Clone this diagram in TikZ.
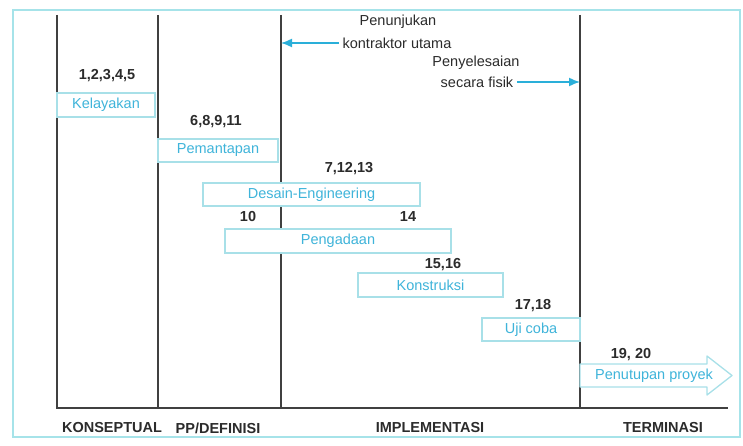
\documentclass[tikz,border=0pt]{standalone}
\usepackage{fontspec}
\setmainfont{Liberation Sans}
\usetikzlibrary{arrows.meta,positioning,calc}
\definecolor{PHFrame}{HTML}{A6E3E9}
\definecolor{PHBox}{HTML}{A8E0E8}
\definecolor{PHCyan}{HTML}{3FB4DA}
\definecolor{PHArrow}{HTML}{2AAFD9}
\definecolor{PHInk}{HTML}{2B2B2B}
\definecolor{PHRule}{HTML}{404040}
\tikzset{
  frame/.style={draw=PHFrame,line width=2pt},
  divider/.style={PHRule,line width=1.5pt},
  flow/.style={-{Latex[length=11pt,width=9pt]},PHArrow,line width=1.5pt},
  phasebox/.style={draw=PHBox,line width=1.3pt,fill=white,text=PHCyan,
                   font=\fontsize{14.5}{16}\selectfont,inner sep=0pt},
  num/.style={text=PHInk,font=\fontsize{14.5}{16}\selectfont\bfseries},
  note/.style={text=PHInk,font=\fontsize{14.5}{16}\selectfont},
  phaselabel/.style={text=PHInk,font=\fontsize{14.5}{16}\selectfont\bfseries},
}

\begin{document}
\begin{tikzpicture}[x=1pt,y=-1pt]
    \useasboundingbox (0,0) rectangle (743,446);
    % frame and phase dividers
    \draw[frame] (13,10) rectangle (740,437);
    \coordinate (dA) at (57,15);
    \coordinate (dB) at (158,15);
    \coordinate (dC) at (281,15);
    \coordinate (dD) at (580,15);
    \coordinate (base) at (728,408);
    \draw[divider] (dA) -- (dA |- base) -- (base);
    \draw[divider] (dB) -- (dB |- base);
    \draw[divider] (dC) -- (dC |- base);
    \draw[divider] (dD) -- (dD |- base);

    % activity bars
    \node[phasebox,minimum width=98pt,minimum height=24pt] (kelayakan) at (106,105) {Kelayakan};
    \node[phasebox,minimum width=120pt,minimum height=23pt] (pemantapan) at (218,150.5) {Pemantapan};
    \node[phasebox,minimum width=217pt,minimum height=23pt] (desain) at (311.5,194.5) {Desain-Engineering};
    \node[phasebox,minimum width=226pt,minimum height=24pt] (pengadaan) at (338,241) {Pengadaan};
    \node[phasebox,minimum width=145pt,minimum height=24pt] (konstruksi) at (430.5,285) {Konstruksi};
    \node[phasebox,minimum width=98pt,minimum height=23pt] (ujicoba) at (531,329.5) {Uji coba};
    \path[draw=PHBox,line width=1.3pt,fill=white,line join=round]
      (580,364) -- (707,364) -- (707,356) -- (732,375.5) -- (707,395)
      -- (707,387) -- (580,387) -- cycle;
    \node[text=PHCyan,font=\fontsize{14.5}{16}\selectfont] (penutupan) at (654,376) {Penutupan proyek};

    % activity numbers
    \node[num] (nA) at (107,76) {1,2,3,4,5};
    \node[num] (nB) at (216,122) {6,8,9,11};
    \node[num] (nC) at (349,169) {7,12,13};
    \node[num] (nD) at (248,217) {10};
    \node[num] (nE) at (408,217) {14};
    \node[num] (nF) at (443,265) {15,16};
    \node[num] (nG) at (533,306) {17,18};
    \node[num] (nH) at (631,355) {19, 20};

    % milestones
    \node[note] (appointA) at (398,22) {Penunjukan};
    \node[note] (appointB) at (397,43) {kontraktor utama};
    \draw[flow] (appointB.west) -- (appointB.west -| dC);
    \node[note] (finishA) at (476,63) {Penyelesaian};
    \node[note] (finishB) at (477,82) {secara fisik};
    \draw[flow] (finishB.east) -- (finishB.east -| dD);

    % phase names
    \node[phaselabel] (konseptual) at (112,428) {KONSEPTUAL};
    \node[phaselabel] (definisi) at (218,428) {PP/DEFINISI};
    \node[phaselabel] (implementasi) at (430,428) {IMPLEMENTASI};
    \node[phaselabel] (terminasi) at (663,428) {TERMINASI};
  \end{tikzpicture}
\end{document}
